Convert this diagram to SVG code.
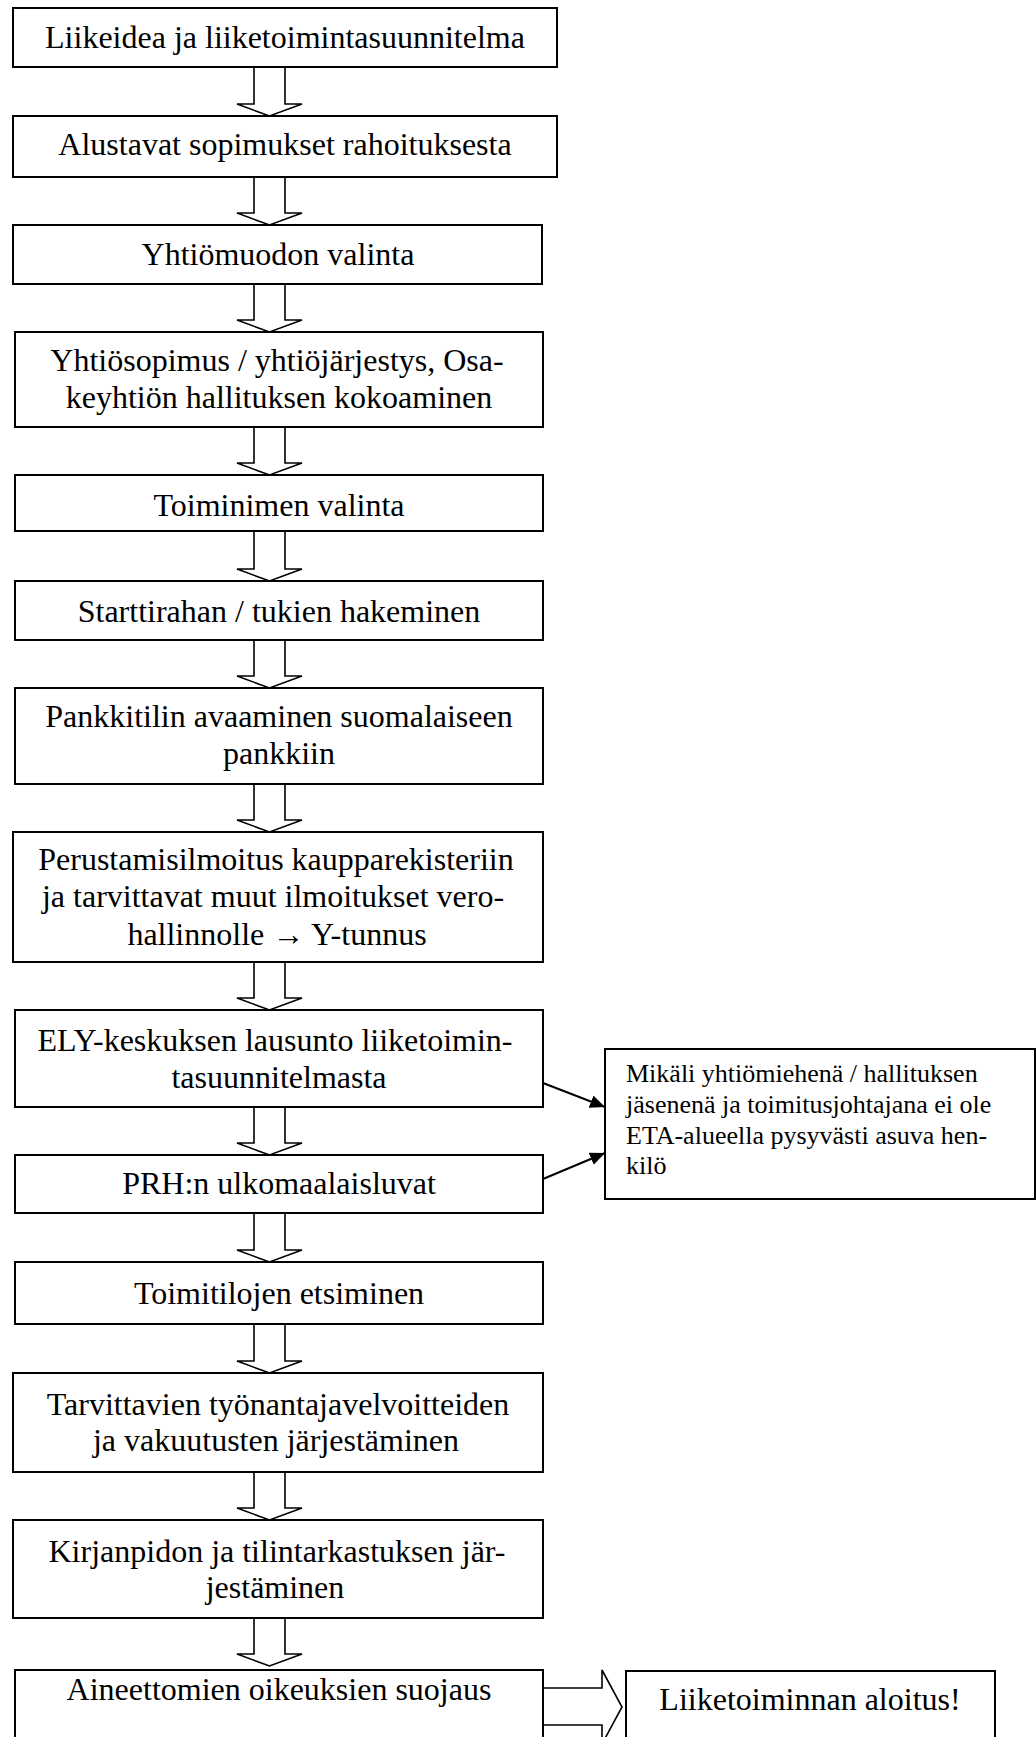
<svg xmlns="http://www.w3.org/2000/svg" width="1036" height="1737" viewBox="0 0 1036 1737">
<style>
.box{fill:#fff;stroke:#000;stroke-width:2}
.t{font-family:"Liberation Serif","Times New Roman",serif;font-size:32px;fill:#000;text-anchor:middle}
.s{font-family:"Liberation Serif","Times New Roman",serif;font-size:26px;fill:#000}
.blk{fill:#fff;stroke:#000;stroke-width:1.6;stroke-linejoin:miter}
.ln{stroke:#000;stroke-width:2;fill:none}
</style>
<defs>
<marker id="ah" markerUnits="userSpaceOnUse" markerWidth="16" markerHeight="14" refX="15" refY="6.5" orient="auto">
<path d="M0,0 L15,6.5 L0,13 z" fill="#000"/>
</marker>
</defs>
<rect width="1036" height="1737" fill="#fff"/>
<g id="connectors">
<path class="blk" d="M254,67 V104 H237 L269.5,116 L302,104 H285 V67"/>
<path class="blk" d="M254,177 V213 H237 L269.5,225 L302,213 H285 V177"/>
<path class="blk" d="M254,284 V320 H237 L269.5,332 L302,320 H285 V284"/>
<path class="blk" d="M254,427 V463 H237 L269.5,475 L302,463 H285 V427"/>
<path class="blk" d="M254,531 V569 H237 L269.5,581 L302,569 H285 V531"/>
<path class="blk" d="M254,640 V676 H237 L269.5,688 L302,676 H285 V640"/>
<path class="blk" d="M254,784 V820 H237 L269.5,832 L302,820 H285 V784"/>
<path class="blk" d="M254,962 V998 H237 L269.5,1010 L302,998 H285 V962"/>
<path class="blk" d="M254,1107 V1143 H237 L269.5,1155 L302,1143 H285 V1107"/>
<path class="blk" d="M254,1213 V1250 H237 L269.5,1262 L302,1250 H285 V1213"/>
<path class="blk" d="M254,1324 V1361 H237 L269.5,1373 L302,1361 H285 V1324"/>
<path class="blk" d="M254,1472 V1508 H237 L269.5,1520 L302,1508 H285 V1472"/>
<path class="blk" d="M254,1618 V1654 H237 L269.5,1666 L302,1654 H285 V1618"/>
<path class="blk" d="M542,1688 H602 V1670 L622,1707 L602,1744 V1725 H542 Z"/>
<line class="ln" x1="543" y1="1083" x2="605" y2="1107" marker-end="url(#ah)"/>
<line class="ln" x1="543" y1="1179" x2="605" y2="1153" marker-end="url(#ah)"/>
</g>
<g id="n1"><rect class="box" x="13" y="8" width="544" height="59"/><text class="t" x="285" y="48">Liikeidea ja liiketoimintasuunnitelma</text></g>
<g id="n2"><rect class="box" x="13" y="116" width="544" height="61"/><text class="t" x="285" y="155">Alustavat sopimukset rahoituksesta</text></g>
<g id="n3"><rect class="box" x="13" y="225" width="529" height="59"/><text class="t" x="278" y="265">Yhtiömuodon valinta</text></g>
<g id="n4"><rect class="box" x="15" y="332" width="528" height="95"/><text class="t" x="277" y="371">Yhtiösopimus / yhtiöjärjestys, Osa-</text><text class="t" x="279" y="408">keyhtiön hallituksen kokoaminen</text></g>
<g id="n5"><rect class="box" x="15" y="475" width="528" height="56"/><text class="t" x="279" y="516">Toiminimen valinta</text></g>
<g id="n6"><rect class="box" x="15" y="581" width="528" height="59"/><text class="t" x="279" y="622">Starttirahan / tukien hakeminen</text></g>
<g id="n7"><rect class="box" x="15" y="688" width="528" height="96"/><text class="t" x="279" y="727">Pankkitilin avaaminen suomalaiseen</text><text class="t" x="279" y="764">pankkiin</text></g>
<g id="n8"><rect class="box" x="13" y="832" width="530" height="130"/><text class="t" x="276" y="870">Perustamisilmoitus kaupparekisteriin</text><text class="t" x="273" y="907">ja tarvittavat muut ilmoitukset vero-</text><text class="t" x="277" y="945">hallinnolle → Y-tunnus</text></g>
<g id="n9"><rect class="box" x="15" y="1010" width="528" height="97"/><text class="t" x="275" y="1051">ELY-keskuksen lausunto liiketoimin-</text><text class="t" x="279" y="1088">tasuunnitelmasta</text></g>
<g id="n10"><rect class="box" x="15" y="1155" width="528" height="58"/><text class="t" x="279" y="1194">PRH:n ulkomaalaisluvat</text></g>
<g id="n11"><rect class="box" x="15" y="1262" width="528" height="62"/><text class="t" x="279" y="1304">Toimitilojen etsiminen</text></g>
<g id="n12"><rect class="box" x="13" y="1373" width="530" height="99"/><text class="t" x="278" y="1415">Tarvittavien työnantajavelvoitteiden</text><text class="t" x="276" y="1451">ja vakuutusten järjestäminen</text></g>
<g id="n13"><rect class="box" x="13" y="1520" width="530" height="98"/><text class="t" x="277" y="1562">Kirjanpidon ja tilintarkastuksen jär-</text><text class="t" x="275" y="1598">jestäminen</text></g>
<g id="n14"><rect class="box" x="15" y="1670" width="528" height="80"/><text class="t" x="279" y="1700">Aineettomien oikeuksien suojaus</text></g>
<g id="n15"><rect class="box" x="626" y="1671" width="369" height="80"/><text class="t" x="810" y="1710">Liiketoiminnan aloitus!</text></g>
<g id="side"><rect class="box" x="605" y="1049" width="430" height="150"/>
<text class="s" x="626" y="1082">Mikäli yhtiömiehenä / hallituksen</text>
<text class="s" x="626" y="1113">jäsenenä ja toimitusjohtajana ei ole</text>
<text class="s" x="626" y="1144">ETA-alueella pysyvästi asuva hen-</text>
<text class="s" x="626" y="1174">kilö</text></g>
</svg>
